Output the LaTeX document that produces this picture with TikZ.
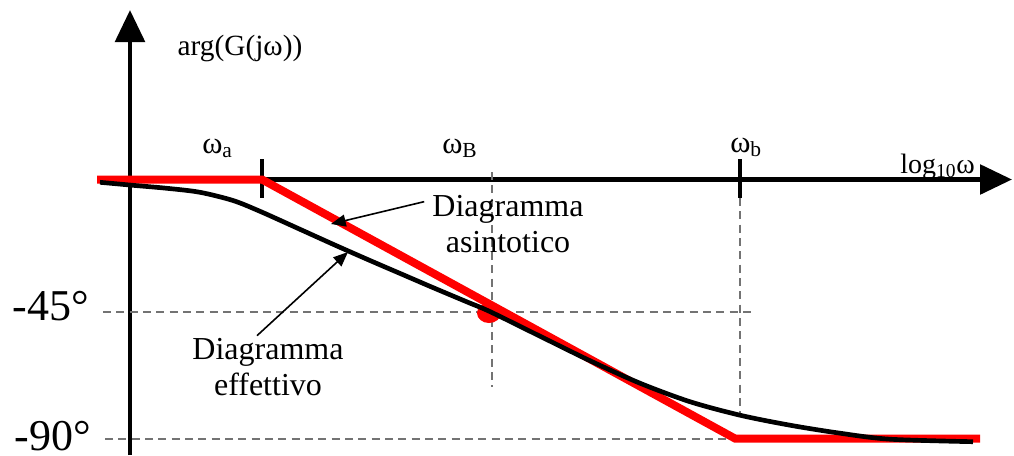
\documentclass[tikz,border=0pt]{standalone}
\usepackage{fontspec}
\setmainfont{Liberation Serif}
\usetikzlibrary{arrows.meta, positioning}

\begin{document}
\begin{tikzpicture}[% one unit = one pixel of the reference
         x = 0.75pt, y = -0.75pt,
         > = {Triangle[length=11pt,width=9pt]},
axis/.style = {line width=3.5pt, -{Triangle[length=24pt,width=22pt]}},
tickmark/.style = {line width=3pt},
guide/.style = {line width=1.1pt, black!55, dash pattern=on 6pt off 4pt},
asym/.style = {line width=6pt, red},
real/.style = {line width=3.5pt, black},
note/.style = {align=center, inner sep=0pt,
               font=\fontsize{24}{27.5}\selectfont},
freq/.style = {inner sep=0pt, anchor=base west,
               font=\fontsize{23}{23}\selectfont},
deg/.style = {inner sep=0pt, anchor=base,
              font=\fontsize{33}{33}\selectfont}
                        ]
	\useasboundingbox (0,0) rectangle (1014,455);

	% coordinate axis
	\coordinate (ybot) at (130,455);
	\coordinate (ytop) at (130,10);
	\coordinate (xleft) at (97,179.5);
	\coordinate (xright) at (1012,179.5);
	\draw[axis] (ybot) -- (ytop);
	\draw[axis] (xleft) -- (xright);

	% guide lines
	\draw[guide] (103,312) -- (752,312);
	\draw[guide] (105,439) -- (735,439);
	\draw[guide] (492,172) -- (492,387);
	\draw[guide] (740,198) -- (740,413);

	% break points
	\draw[tickmark] (262,159) -- (262,198);
	\draw[tickmark] (740,159) -- (740,198);
	\fill[red] (489,313) ellipse [x radius=9pt, y radius=7.5pt];

	% asymptotic and real phase
	\draw[asym] (xleft) -- (262,179.5) -- (735,438.5) -- (980,438.5);
	\draw[real] plot[smooth] coordinates {(100,182.3) (133,185.3)
		(167,188.3) (200,192.3) (233,200.5) (260,211.3) (300,229.3)
		(333,244.2) (367,259.2) (400,273.4) (433,287.6) (467,301.9)
		(490,311.6) (540,336.2) (590,360.7) (640,383.2) (690,401.7)
		(740,415.2) (790,425.2) (840,433.2) (890,439.2) (973,441.7)};

	% labels
	\node[inner sep=0pt, anchor=base, font=\fontsize{22}{22}\selectfont]
		(arg) at (240,55) {arg(G(jω))};
	\node[freq] (wa) at (202,153) {ω\textsubscript{a}};
	\node[freq] (wB) at (442,153) {ω\textsubscript{B}};
	\node[freq] (wb) at (730,152) {ω\textsubscript{b}};
	\node[freq, anchor=base east, font=\fontsize{21}{21}\selectfont]
		(logw) at (975,173) {log\textsubscript{10}ω};
	\node[deg] (m45) at (51,320) {-45°};
	\node[deg] (m90) at (53,450) {-90°};

	\node[note] (asym note) at (508,224) {Diagramma\\asintotico};
	\node[note] (real note) at (268,367) {Diagramma\\effettivo};
	\coordinate (asym tip) at (331,224);
	\coordinate (real tip) at (348,252);
	\draw[->, line width=1.2pt] ([shift={(-8,7)}]asym note.north west) -- (asym tip);
	\draw[->, line width=1.2pt] ([shift={(-11,-2)}]real note.north) -- (real tip);
\end{tikzpicture}
\end{document}
